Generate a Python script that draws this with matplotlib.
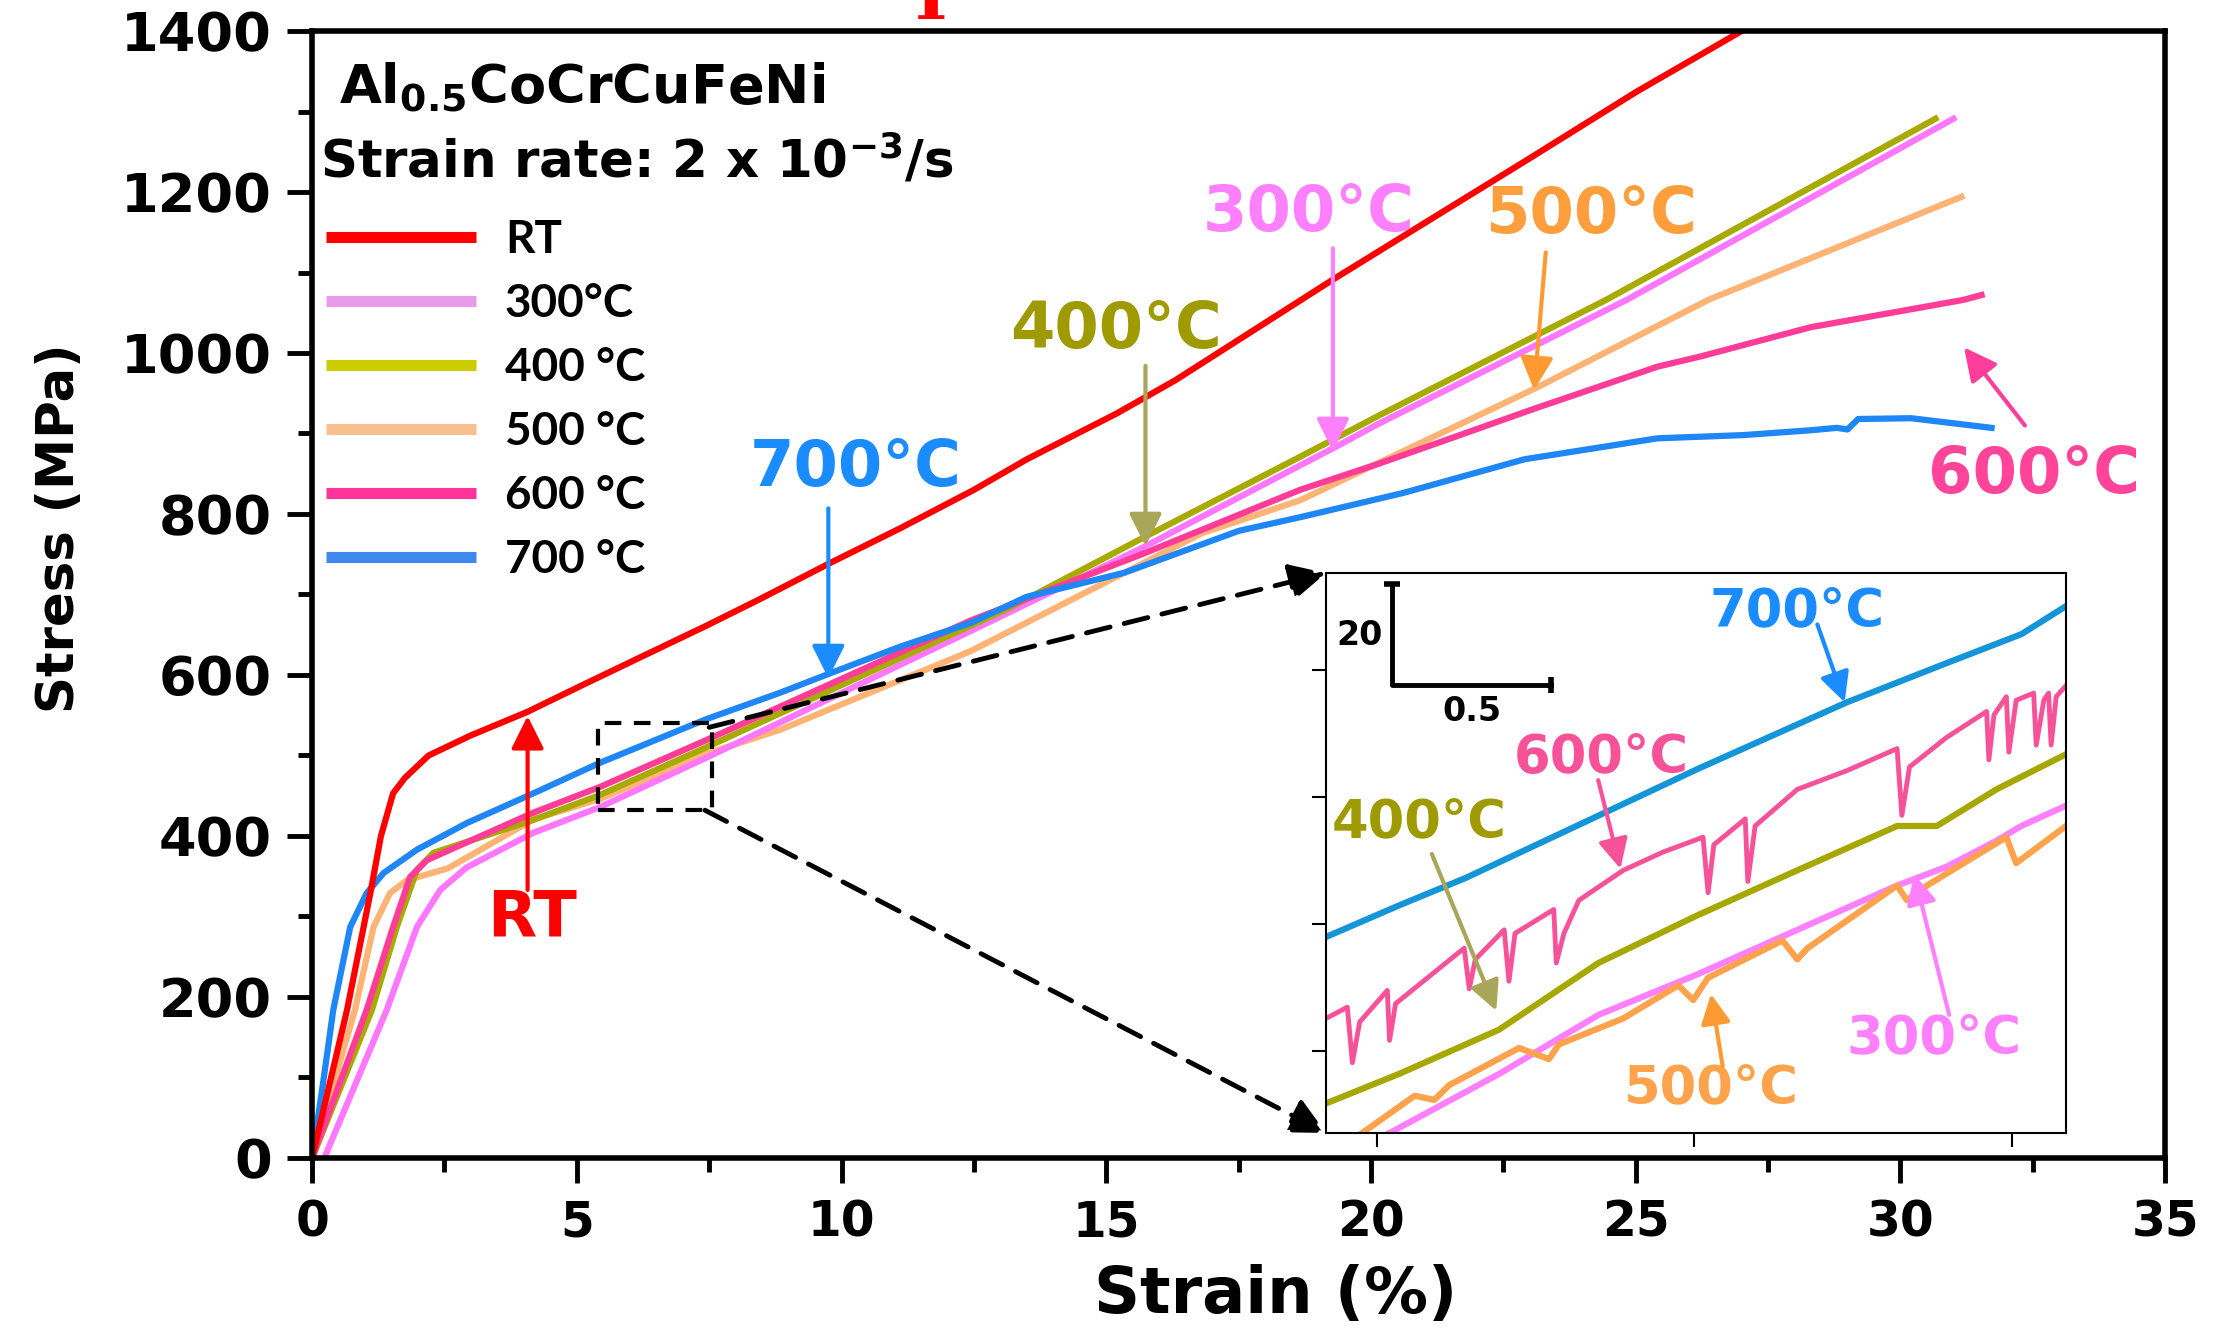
import matplotlib
matplotlib.use("Agg")
import matplotlib.pyplot as plt
from matplotlib.lines import Line2D
from matplotlib.patches import Rectangle, ConnectionPatch
from matplotlib.ticker import MultipleLocator

plt.rcParams['font.family'] = ['DejaVu Sans']
plt.rcParams['font.weight'] = 'bold'
plt.rcParams['axes.labelweight'] = 'bold'
plt.rcParams['mathtext.default'] = 'bf'

# ---- main curves: strain (%) vs stress (MPa) ----
rt_strain = [0, 0.66, 1.1, 1.3, 1.53, 1.75, 2.2, 3.0, 4.06, 5.06, 6.2, 7.44, 8.42, 9.78,
             11.1, 12.5, 13.5, 15.2, 16.3, 19.3, 21.0, 23.0, 25.0, 27.0, 27.6]
rt_stress = [0, 184, 329, 400, 453, 472, 500, 525, 554, 586, 622, 661, 693, 739,
             782, 830, 868, 925, 966, 1092, 1161, 1242, 1324, 1400, 1425]

t300_strain = [0.23, 1.41, 1.98, 2.42, 2.92, 4.18, 5.44, 7.44, 12.45, 15.71, 19.32, 20.17, 24.83, 31.0]
t300_stress = [0, 184, 287, 333, 361, 404, 436, 497, 655, 759, 883, 913, 1066, 1291]

t400_strain = [0, 1.13, 1.6, 1.98, 2.29, 4.18, 5.44, 7.44, 13.19, 15.71, 18.66, 20.17, 24.44, 30.66]
t400_stress = [0, 184, 287, 358, 379, 420, 451, 510, 684, 771, 871, 923, 1066, 1291]

t500_strain = [0, 0.81, 1.16, 1.47, 1.79, 2.57, 4.19, 5.44, 7.44, 8.84, 12.45, 16.8, 18.66, 23.1, 26.37, 31.15]
t500_stress = [0, 184, 287, 329, 345, 360, 421, 446, 502, 532, 630, 776, 817, 956, 1066, 1194]

t600_strain = [0, 1.03, 1.53, 1.85, 2.17, 2.61, 4.18, 5.44, 7.44, 12.45, 15.71, 18.66, 20.17,
               21.55, 23.05, 25.41, 26.24, 28.3, 31.19, 31.53]
t600_stress = [0, 184, 287, 349, 370, 383, 429, 461, 519, 668, 751, 830, 863,
               895, 930, 983, 996, 1032, 1066, 1072]

t700_strain = [0, 0.2, 0.4, 0.72, 1.03, 1.35, 1.98, 2.92, 4.18, 5.44, 7.44, 8.84, 9.78, 11.1, 12.45,
               13.49, 15.34, 17.5, 18.66, 20.6, 22.9, 25.41, 27.03, 28.3, 28.8, 29.0, 29.2, 30.2, 31.72]
t700_stress = [0, 90, 184, 287, 329, 354, 383, 416, 453, 491, 545, 578, 602, 635, 665,
               697, 727, 779, 796, 826, 868, 894, 898, 904, 907, 905, 918, 919, 907]

# ---- inset (zoomed, shifted) curves ----
in700_strain = [5.84, 6.07, 6.28, 6.70, 7.01, 7.48, 7.79, 8.03, 8.17]
in700_stress = [472.5, 478.7, 484.1, 496.4, 505.5, 518.6, 526.2, 532.0, 537.5]

in600_strain = [5.84, 5.907, 5.923, 5.946, 6.033, 6.040, 6.059, 6.275, 6.291, 6.310, 6.401, 6.416,
                6.435, 6.557, 6.565, 6.589, 6.636, 6.776, 6.902, 7.027, 7.043, 7.061, 7.160,
                7.168, 7.191, 7.324, 7.481, 7.638, 7.653, 7.677, 7.794, 7.920, 7.927, 7.943,
                7.982, 7.990, 8.013, 8.068, 8.076, 8.100, 8.115, 8.123, 8.139, 8.17]
in600_stress = [456.5, 458.7, 447.8, 455.8, 462.0, 452.2, 459.4, 470.3, 462.3, 468.1, 473.9, 463.8,
                473.2, 477.9, 467.4, 473.2, 479.7, 485.6, 489.2, 492.1, 481.2, 490.6, 495.7,
                483.4, 494.3, 501.5, 505.2, 509.5, 496.4, 505.9, 511.7, 516.8, 507.3, 516.1,
                519.7, 508.8, 519.0, 520.4, 510.2, 519.0, 520.4, 510.2, 519.7, 521.9]

in400_strain = [5.84, 6.07, 6.385, 6.698, 7.011, 7.324, 7.638, 7.763, 7.951, 8.17]
in400_stress = [439.8, 445.6, 454.3, 467.4, 476.8, 485.6, 494.3, 494.3, 501.5, 508.4]

in300_strain = [6.04, 6.385, 6.698, 7.011, 7.324, 7.638, 7.794, 7.951, 8.029, 8.17]
in300_stress = [434.0, 445.6, 457.2, 465.2, 473.9, 482.6, 486.3, 491.4, 494.3, 498.3]

in500_strain = [5.954, 6.119, 6.181, 6.228, 6.448, 6.542, 6.573, 6.776, 6.949, 6.996, 7.043,
                7.277, 7.324, 7.356, 7.638, 7.669, 7.732, 7.982, 8.013, 8.17]
in500_stress = [434.0, 441.3, 440.5, 443.4, 450.7, 448.5, 451.4, 456.5, 463.0, 460.1, 464.5,
                471.8, 468.1, 470.3, 482.6, 479.7, 482.6, 492.1, 487.0, 494.3]

legend_labels = ['RT', '300°C', '400 °C', '500 °C', '600 °C', '700 °C']
legend_colors = ['#ff0000', '#e79bea', '#cccc00', '#f9c08f', '#ff3399', '#3f88ee']

fig = plt.figure(figsize=(22.23, 13.31), dpi=100)
ax = fig.add_axes([0.1404, 0.1300, 0.8336, 0.8467])

lw = 4.5
ax.plot(t500_strain, t500_stress, color='#ffb374', lw=lw)
ax.plot(t300_strain, t300_stress, color='#ff77ff', lw=lw)
ax.plot(t400_strain, t400_stress, color='#a8aa00', lw=lw)
ax.plot(t600_strain, t600_stress, color='#ff3c97', lw=lw)
ax.plot(t700_strain, t700_stress, color='#1e86f5', lw=lw)
ax.plot(rt_strain, rt_stress, color='#ff0000', lw=lw)

ax.set_xlim(0, 35)
ax.set_ylim(0, 1400)
ax.xaxis.set_major_locator(MultipleLocator(5))
ax.xaxis.set_minor_locator(MultipleLocator(2.5))
ax.yaxis.set_major_locator(MultipleLocator(200))
ax.yaxis.set_minor_locator(MultipleLocator(100))
ax.tick_params(which='both', direction='out', width=3.5, pad=11)
ax.tick_params(axis='x', labelsize=35)
ax.tick_params(axis='y', labelsize=39)
ax.tick_params(which='major', length=18)
ax.tick_params(which='minor', length=10)
for sp in ax.spines.values():
    sp.set_linewidth(4)

ax.set_xlabel('Strain (%)', fontsize=46)
ax.set_ylabel('Stress (MPa)', fontsize=37)
ax.xaxis.set_label_coords(0.52, -0.094)
ax.yaxis.set_label_coords(-0.1225, 0.559)

# header text
ax.text(0.0146, 0.949, r'Al$_{0.5}$CoCrCuFeNi', transform=ax.transAxes, fontsize=39,
        ha='left', va='center')
ax.text(0.0043, 0.885, r'Strain rate: 2 x 10$^{-3}$/s', transform=ax.transAxes, fontsize=37,
        ha='left', va='center')

handles = [Line2D([], [], color=c, lw=8, solid_capstyle='butt') for c in legend_colors]
leg = ax.legend(handles, legend_labels, loc='upper left', bbox_to_anchor=(0.0076, 0.833),
                frameon=False, borderpad=0, borderaxespad=0, handlelength=3.27,
                handletextpad=0.63, labelspacing=0.48,
                prop={'family': 'Lato', 'weight': 'bold', 'size': 33})

# main annotations: label, text pos, arrow start, arrow end, text colour, arrow colour
annots = [
    ('700°C', (10.26, 857), (9.75, 807), (9.75, 596), '#1a8cff', '#1a8cff'),
    ('RT', (4.15, 297), (4.07, 333), (4.07, 549), '#ff0000', '#ff0000'),
    ('400°C', (15.18, 1028), (15.74, 984), (15.74, 760), '#9e9a00', '#a9a65a'),
    ('300°C', (18.82, 1174), (19.28, 1130), (19.28, 878), '#ff80ff', '#ff80ff'),
    ('500°C', (24.15, 1171), (23.3, 1125), (23.08, 954), '#ff9e3d', '#ff9a33'),
    ('600°C', (32.53, 848), (32.35, 910), (31.2, 1007), '#ff4499', '#ff3d9a'),
]
for lab, txy, a0, a1, tc, ac in annots:
    ax.text(txy[0], txy[1], lab, color=tc, fontsize=46, ha='center', va='center')
    ax.annotate('', xy=a1, xytext=a0,
                arrowprops=dict(arrowstyle='-|>', color=ac, lw=3, mutation_scale=50,
                                shrinkA=0, shrinkB=0))

# dashed zoom box
ax.add_patch(Rectangle((5.4, 432), 2.16, 108, fill=False, ls=(0, (4, 3)), lw=3,
                       ec='black', zorder=5))

# inset
axins = fig.add_axes([0.5965, 0.1488, 0.3329, 0.4207])
ilw = 4.5
axins.plot(in700_strain, in700_stress, color='#1495d8', lw=ilw)
axins.plot(in600_strain, in600_stress, color='#f6529a', lw=ilw - 1)
axins.plot(in400_strain, in400_stress, color='#a6a800', lw=ilw)
axins.plot(in300_strain, in300_stress, color='#ff80ff', lw=ilw)
axins.plot(in500_strain, in500_stress, color='#ffa24c', lw=ilw)
axins.set_xlim(5.84, 8.17)
axins.set_ylim(434, 544)
axins.set_xticks([6, 7, 8])
axins.set_yticks([450, 475, 500, 525])
axins.tick_params(direction='out', length=10, width=1.5, labelbottom=False, labelleft=False)
for sp in axins.spines.values():
    sp.set_linewidth(1.5)

# scale bar
axins.plot([6.047, 6.047, 6.547], [541.9, 521.9, 521.9], color='black', lw=3.5)
axins.plot([6.047], [541.9], marker='_', ms=12, mew=4, color='black')
axins.plot([6.547], [521.9], marker='|', ms=12, mew=4, color='black')
axins.text(5.947, 531.7, '20', fontsize=24, ha='center', va='center')
axins.text(6.30, 516.7, '0.5', fontsize=24, ha='center', va='center')

in_annots = [
    ('700°C', (7.324, 536.4), (7.387, 533.9), (7.473, 518.6), '#1a8cff', '#1a8cff'),
    ('600°C', (6.707, 507.7), (6.697, 503.3), (6.767, 485.9), '#f6529a', '#f6529a'),
    ('400°C', (6.134, 495.1), (6.173, 488.8), (6.376, 458.0), '#9e9a00', '#a9a65a'),
    ('500°C', (7.052, 442.7), (7.089, 447.1), (7.052, 461.3), '#ffa24c', '#ff9a33'),
    ('300°C', (7.755, 452.5), (7.802, 457.2), (7.692, 484.8), '#ff80ff', '#ff80ff'),
]
for lab, txy, a0, a1, tc, ac in in_annots:
    axins.text(txy[0], txy[1], lab, color=tc, fontsize=38, ha='center', va='center')
    axins.annotate('', xy=a1, xytext=a0,
                   arrowprops=dict(arrowstyle='-|>', color=ac, lw=3, mutation_scale=45,
                                   shrinkA=0, shrinkB=0))

# dashed connectors from zoom box to inset
for a_xy, b_xy in [((7.50, 535), (0, 1)), ((7.42, 432), (0, 0))]:
    con = ConnectionPatch(xyA=a_xy, coordsA=ax.transData, xyB=b_xy, coordsB=axins.transAxes,
                          arrowstyle='-|>', ls=(0, (5, 3)), lw=3.5, color='black',
                          mutation_scale=55, zorder=6)
    fig.add_artist(con)

# cropped red glyph at top edge of original figure
fig.text(931 / 2223, 1 - 19 / 1331, 'I', color='red', fontsize=50, family='DejaVu Serif',
         weight='bold', ha='center', va='baseline')

fig.savefig('out.png', dpi=100)
